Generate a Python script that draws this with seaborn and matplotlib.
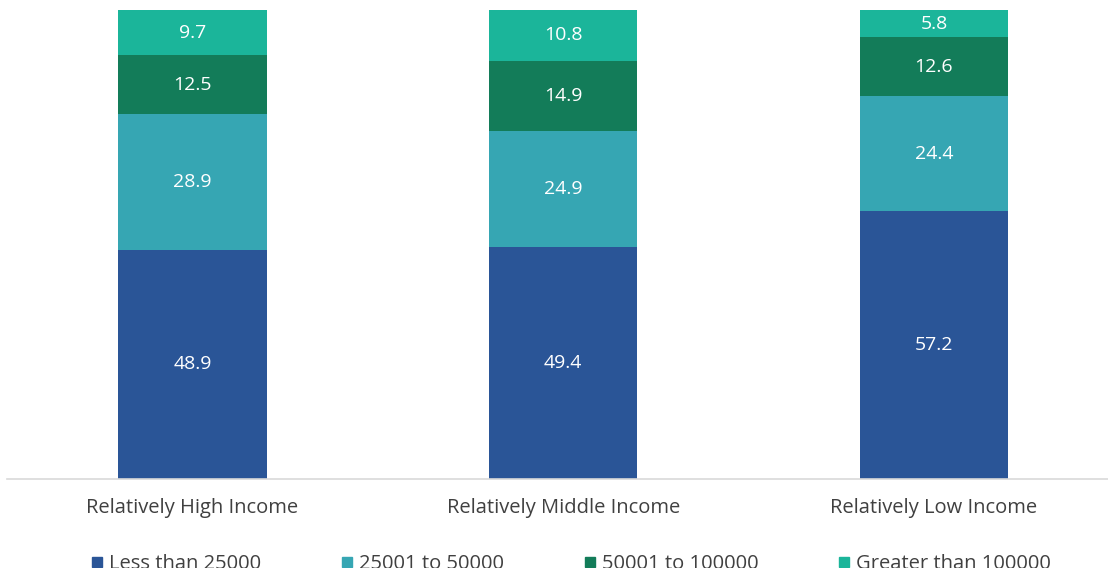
import numpy as np, pandas as pd, matplotlib
matplotlib.use('Agg')
import matplotlib.pyplot as plt
import seaborn as sns
from matplotlib.lines import Line2D

categories = ['Relatively High Income', 'Relatively Middle Income', 'Relatively Low Income']
series = ['Less than 25000', '25001 to 50000', '50001 to 100000', 'Greater than 100000']
less_25k = [48.9, 49.4, 57.2]
mid_25_50k = [28.9, 24.9, 24.4]
mid_50_100k = [12.5, 14.9, 12.6]
over_100k = [9.7, 10.8, 5.8]
colors = ['#2a5597', '#36a6b3', '#137c59', '#1bb59a']

sns.set_theme(style='white')
plt.rcParams['font.family'] = ['Open Sans', 'DejaVu Sans']

values = np.array([less_25k, mid_25_50k, mid_50_100k, over_100k])
cum = values.cumsum(axis=0)

fig = plt.figure(figsize=(11.08, 5.68), dpi=100)
ax = fig.add_axes([7/1108, 89/568, 1112.25/1108, 469/568])

# overlapping cumulative bars, tallest first
for k in range(len(series) - 1, -1, -1):
    df = pd.DataFrame({'cat': categories, 'val': cum[k]})
    sns.barplot(data=df, x='cat', y='val', color=colors[k], saturation=1,
                width=0.4, ax=ax, linewidth=0)

for k in range(len(series)):
    for i in range(len(categories)):
        bottom = cum[k][i] - values[k][i]
        ax.text(i, bottom + values[k][i] / 2, f'{values[k][i]:.1f}', ha='center', va='center',
                color='white', fontsize=14)

ax.set_xlim(-0.5, 2.5)
ax.set_ylim(0, 100)
ax.set_xlabel('')
ax.set_ylabel('')
ax.set_yticks([])
ax.tick_params(axis='x', length=0, pad=14, labelsize=14.5, labelcolor='#404040')
for s in ['top', 'right', 'left']:
    ax.spines[s].set_visible(False)
ax.spines['bottom'].set_color('#d9d9d9')
ax.spines['bottom'].set_linewidth(1.2)

# legend sits at the bottom edge, partly clipped like the original
handles = [Line2D([], [], marker='s', linestyle='', markersize=7, color=c) for c in colors]
fig.legend(handles, series, loc='center', bbox_to_anchor=(570/1108, 4/568), ncol=4,
           frameon=False, fontsize=14.5, handletextpad=0.2, columnspacing=3.85,
           handlelength=0.8, labelcolor='#404040')

plt.savefig('out.png', dpi=100)
plt.close()
